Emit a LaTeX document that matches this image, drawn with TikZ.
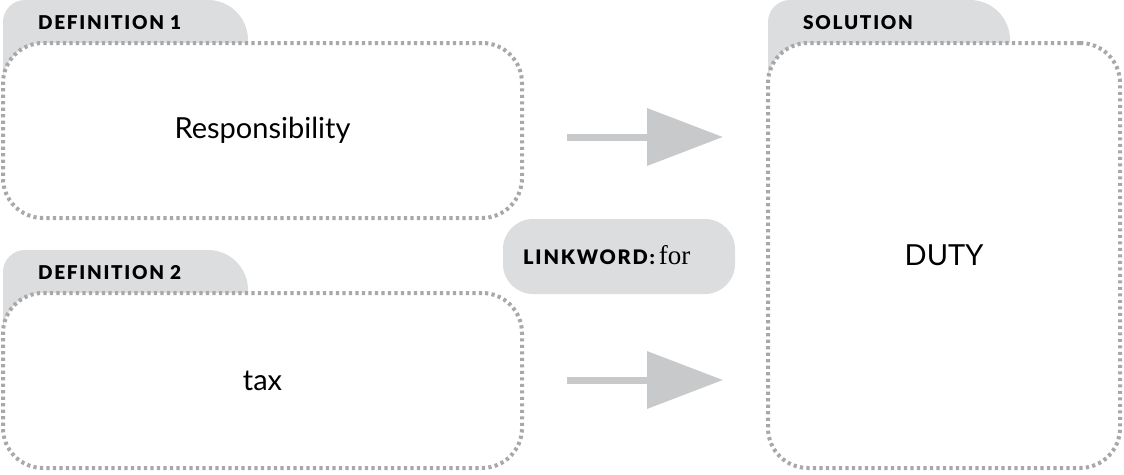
\documentclass[tikz,border=0pt]{standalone}
\usepackage{fontspec}
\setmainfont{Lato}
\IfFontExistsTF{Lato Black}
  {\newfontfamily\tabfont[LetterSpace=9]{Lato Black}\newcommand\tabwt{}}
  {\newfontfamily\tabfont[LetterSpace=10]{Lato}\newcommand\tabwt{\bfseries}}
\newfontfamily\serfont{Liberation Serif}
\usetikzlibrary{arrows.meta}
\definecolor{tabgray}{HTML}{DCDDDE}
\definecolor{dotgray}{HTML}{A8A8A8}
\definecolor{arrgray}{HTML}{C8C9CA}
\tikzset{
  boxnode/.style={draw=dotgray, line width=4pt, dash pattern=on 3.2pt off 3.3pt, fill=white, rounded corners=40pt, inner sep=0pt, font=\fontsize{29}{34}\selectfont},
  tabtext/.style={anchor=base west, inner sep=0pt, font=\tabfont\tabwt\fontsize{19}{22}\selectfont},
  pill/.style={fill=tabgray, rounded corners=30pt, inner sep=0pt, minimum width=232pt, minimum height=75pt},
  bigarrow/.style={arrgray, line width=7pt, -{Triangle[length=76pt,width=56pt]}}
}
\begin{document}
\begin{tikzpicture}[x=1pt,y=-1pt]
\useasboundingbox (0,0) rectangle (1124,474);
% tabs
\fill[tabgray] (3,110) -- (3,22) arc[start angle=180,end angle=270,radius=22] -- (208,0) arc[start angle=270,end angle=360,radius=40] -- (248,60) -- cycle;
\fill[tabgray] (3,360) -- (3,272) arc[start angle=180,end angle=270,radius=22] -- (208,250) arc[start angle=270,end angle=360,radius=40] -- (248,310) -- cycle;
\fill[tabgray] (768,110) -- (768,22) arc[start angle=180,end angle=270,radius=22] -- (970,0) arc[start angle=270,end angle=360,radius=40] -- (1010,60) -- cycle;
% boxes
\node[boxnode, minimum width=519pt, minimum height=175pt] (d1) at (262.5,130.5) {Responsibility};
\node[boxnode, minimum width=519pt, minimum height=175pt] (d2) at (262.5,380.5) {tax};
\node[boxnode, minimum width=352pt, minimum height=425pt] (sol) at (944,255.5) {DUTY};
% tab labels
\node[tabtext] (t1) at (38,29) {DEFINITION 1};
\node[tabtext] (t2) at (38,279) {DEFINITION 2};
\node[tabtext] (t3) at (803,29) {SOLUTION};
% linkword
\node[pill] (lw) at (619,256.5) {};
\node[anchor=base west, inner sep=0pt] (lwt) at (523,264) {\tabfont\tabwt\fontsize{20}{24}\selectfont LINKWORD:\hspace{4pt}\serfont\mdseries\fontsize{27}{30}\selectfont for};
% arrows
\coordinate (a1s) at (567,137);
\coordinate (a1e) at (723,137);
\coordinate (a2s) at (567,380);
\coordinate (a2e) at (723,380);
\draw[bigarrow] (a1s) -- (a1e);
\draw[bigarrow] (a2s) -- (a2e);
\end{tikzpicture}
\end{document}
